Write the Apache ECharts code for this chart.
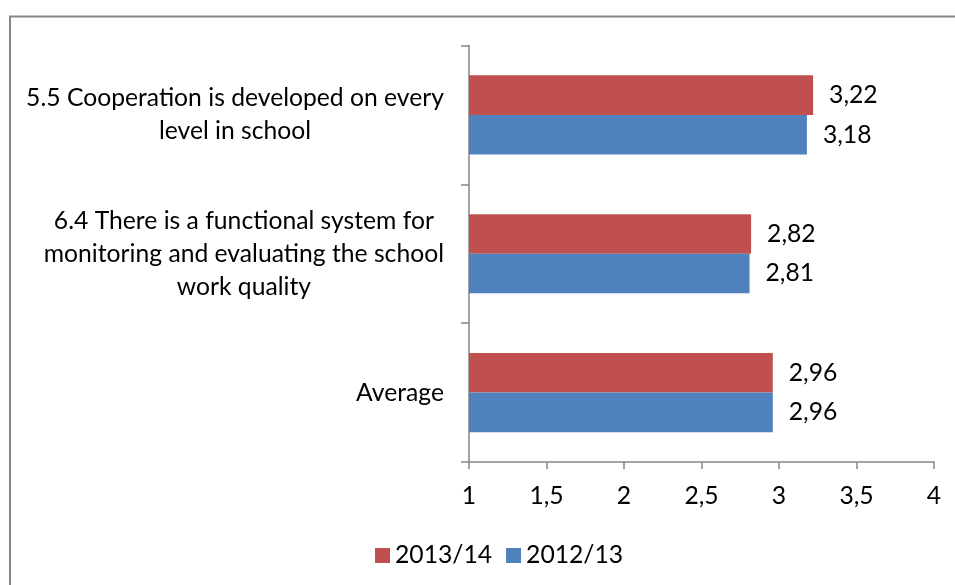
<!DOCTYPE html>
<html>
<head>
<meta charset="utf-8">
<script src="https://cdn.jsdelivr.net/npm/echarts@6/dist/echarts.min.js"></script>
<style>
  html, body { margin: 0; padding: 0; background: #fff; }
  #chart { width: 955px; height: 585px; }
</style>
</head>
<body>
<div id="chart"></div>
<script>
// Survey items (top to bottom) and mean scores per school year
const categories = [
  '5.5 Cooperation is developed on every\nlevel in school',
  '6.4 There is a functional system for\nmonitoring and evaluating the school\nwork quality',
  'Average'
];
const seriesNames = ['2013/14', '2012/13'];
const values201314 = [3.22, 2.82, 2.96];
const values201213 = [3.18, 2.81, 2.96];
const xTicks = [1, 1.5, 2, 2.5, 3, 3.5, 4];

const FONT = 'Lato';
const FS = 24.7;
const AXIS_GREY = '#868686';

const comma = v => String(v).replace('.', ',');

const chart = echarts.init(document.getElementById('chart'), null, { renderer: 'canvas' });

chart.setOption({
  animation: false,
  backgroundColor: '#ffffff',
  textStyle: { fontFamily: FONT, color: '#000' },
  graphic: [{
    type: 'rect',
    shape: { x: 10, y: 16.5, width: 1200, height: 1200 },
    style: { fill: null, stroke: AXIS_GREY, lineWidth: 2 },
    silent: true
  }],
  legend: {
    data: seriesNames,
    left: 370,
    top: 538,
    itemWidth: 15,
    itemHeight: 15,
    itemGap: 14,
    icon: 'rect',
    textStyle: { fontFamily: FONT, fontSize: FS, color: '#000' }
  },
  grid: { left: 469, right: 21, top: 45.5, bottom: 123, containLabel: false },
  xAxis: {
    type: 'value',
    min: xTicks[0],
    max: xTicks[xTicks.length - 1],
    interval: 0.5,
    splitLine: { show: false },
    axisLine: { show: true, lineStyle: { color: AXIS_GREY, width: 1.5 } },
    axisTick: { show: true, length: 7, lineStyle: { color: AXIS_GREY, width: 1.5 } },
    axisLabel: {
      margin: 22,
      fontFamily: FONT,
      fontSize: FS,
      color: '#000',
      formatter: v => comma(v)
    }
  },
  yAxis: {
    type: 'category',
    inverse: true,
    data: categories,
    axisLine: { show: true, lineStyle: { color: AXIS_GREY, width: 1.5 } },
    axisTick: { show: true, length: 8, lineStyle: { color: AXIS_GREY, width: 1.5 } },
    axisLabel: {
      margin: 25,
      fontFamily: FONT,
      fontSize: FS,
      color: '#000',
      formatter: v => v.split('\n').map(l => '{c|' + l + '}').join('\n'),
      rich: {
        c: { align: 'center', fontFamily: FONT, fontSize: FS, lineHeight: 33, color: '#000' }
      }
    }
  },
  series: [
    {
      name: seriesNames[0],
      type: 'bar',
      data: values201314,
      barCategoryGap: '43%',
      barGap: '0%',
      itemStyle: { color: '#C0504D' },
      label: {
        show: true, position: 'right', distance: 16,
        fontFamily: FONT, fontSize: FS, color: '#000',
        formatter: p => comma(p.value)
      }
    },
    {
      name: seriesNames[1],
      type: 'bar',
      data: values201213,
      barCategoryGap: '43%',
      barGap: '0%',
      itemStyle: { color: '#4F81BD' },
      label: {
        show: true, position: 'right', distance: 16,
        fontFamily: FONT, fontSize: FS, color: '#000',
        formatter: p => comma(p.value)
      }
    }
  ]
});
</script>
</body>
</html>
